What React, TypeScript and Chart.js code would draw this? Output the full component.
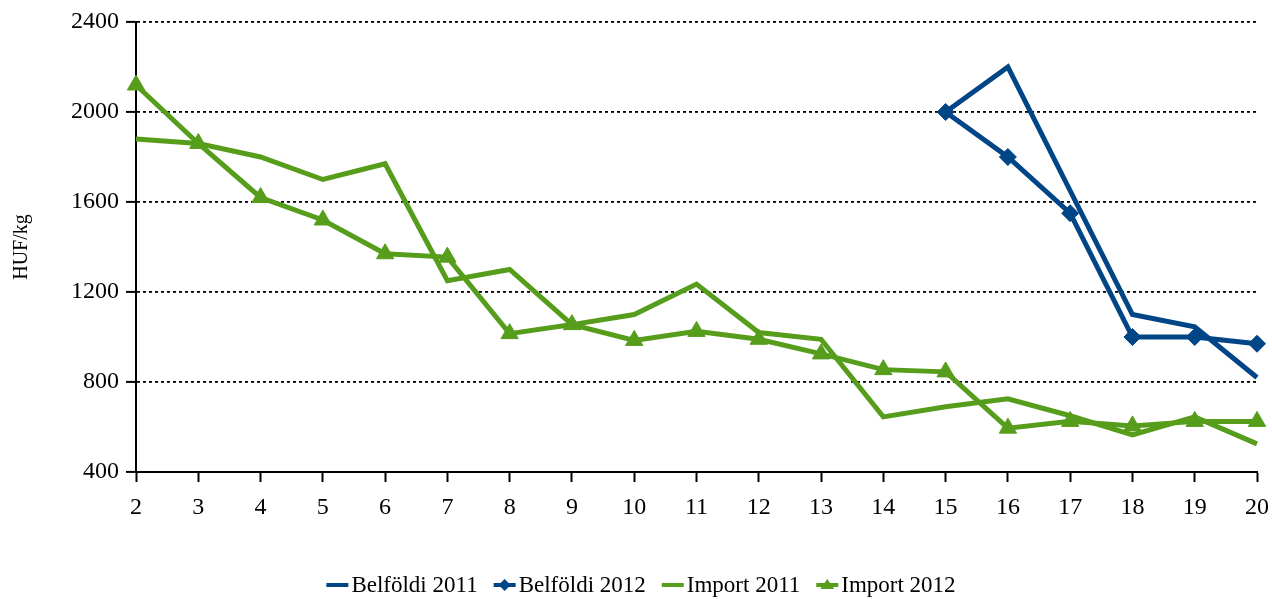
import React, { useEffect, useRef } from "react";
import { Chart, registerables } from "chart.js";

Chart.register(...registerables);

const weeks = ["2", "3", "4", "5", "6", "7", "8", "9", "10", "11", "12", "13", "14", "15", "16", "17", "18", "19", "20"];
const belfoldi2011 = [null, null, null, null, null, null, null, null, null, null, null, null, null, 2000, 2200, 1650, 1100, 1045, 820];
const belfoldi2012 = [null, null, null, null, null, null, null, null, null, null, null, null, null, 2000, 1800, 1550, 1000, 1000, 970];
const import2011 = [1880, 1860, 1800, 1700, 1770, 1250, 1300, 1055, 1100, 1235, 1020, 990, 645, 690, 725, 650, 565, 645, 525];
const import2012 = [2120, 1860, 1620, 1520, 1370, 1355, 1015, 1055, 985, 1025, 990, 925, 855, 845, 595, 625, 605, 625, 625];

const BLUE = "#004586";
const GREEN = "#579d1c";
const FONT = "'Liberation Serif', 'Times New Roman', serif";

const legendPlugin = {
  id: "bottomLegend",
  afterDraw(chart: any) {
    const ctx = chart.ctx;
    const items = chart.data.datasets.map((d: any) => ({
      text: d.label,
      color: d.borderColor,
      style: d.pointRadius > 0 ? d.pointStyle : null,
    }));
    ctx.save();
    ctx.font = `23px ${FONT}`;
    const sample = 22;
    const gap = 3;
    const spacing = 16;
    const widths = items.map((it: any) => sample + gap + ctx.measureText(it.text).width);
    const total = widths.reduce((a: number, b: number) => a + b, 0) + spacing * (items.length - 1);
    let x = 641 - total / 2;
    const y = 585;
    items.forEach((it: any, i: number) => {
      ctx.strokeStyle = it.color;
      ctx.lineWidth = 4;
      ctx.beginPath();
      ctx.moveTo(x, y);
      ctx.lineTo(x + sample, y);
      ctx.stroke();
      if (it.style) {
        ctx.fillStyle = it.color;
        ctx.beginPath();
        if (it.style === "triangle") {
          ctx.moveTo(x + sample / 2, y - 6);
          ctx.lineTo(x + sample / 2 + 7, y + 4);
          ctx.lineTo(x + sample / 2 - 7, y + 4);
        } else {
          ctx.moveTo(x + sample / 2, y - 6);
          ctx.lineTo(x + sample / 2 + 6, y);
          ctx.lineTo(x + sample / 2, y + 6);
          ctx.lineTo(x + sample / 2 - 6, y);
        }
        ctx.closePath();
        ctx.fill();
      }
      ctx.fillStyle = "#000";
      ctx.textBaseline = "middle";
      ctx.textAlign = "left";
      ctx.fillText(it.text, x + sample + gap, y + 1);
      x += widths[i] + spacing;
    });
    ctx.restore();
  },
};

export default function App() {
  const ref = useRef<HTMLCanvasElement | null>(null);
  useEffect(() => {
    if (!ref.current) return;
    const chart = new Chart(ref.current, {
      type: "line",
      data: {
        labels: weeks,
        datasets: [
          {
            label: "Belföldi 2011",
            data: belfoldi2011,
            borderColor: BLUE,
            backgroundColor: BLUE,
            borderWidth: 5,
            pointRadius: 0,
            pointStyle: "circle",
            tension: 0,
          },
          {
            label: "Belföldi 2012",
            data: belfoldi2012,
            borderColor: BLUE,
            backgroundColor: BLUE,
            borderWidth: 5,
            pointRadius: 8.5,
            pointStyle: "rectRot",
            pointBorderWidth: 1,
            tension: 0,
          },
          {
            label: "Import 2011",
            data: import2011,
            borderColor: GREEN,
            backgroundColor: GREEN,
            borderWidth: 5,
            pointRadius: 0,
            pointStyle: "circle",
            tension: 0,
          },
          {
            label: "Import 2012",
            data: import2012,
            borderColor: GREEN,
            backgroundColor: GREEN,
            borderWidth: 5,
            pointRadius: 10,
            pointStyle: "triangle",
            pointBorderWidth: 1,
            tension: 0,
          },
        ],
      },
      options: {
        animation: false,
        responsive: false,
        maintainAspectRatio: false,
        layout: { padding: { top: 22, right: 15, bottom: 0, left: 0 } },
        plugins: {
          legend: { display: false },
          tooltip: { enabled: false },
        },
        scales: {
          x: {
            offset: false,
            grid: {
              drawOnChartArea: false,
              drawTicks: true,
              tickLength: 10,
              tickColor: "#000",
              tickWidth: 2,
            },
            border: { display: true, color: "#000", width: 2 },
            ticks: {
              color: "#000",
              font: { family: FONT, size: 24 },
              padding: 11,
              maxRotation: 0,
              autoSkip: false,
            },
            afterFit: (s: any) => {
              s.height = 127;
              s.paddingLeft = 0;
              s.paddingRight = 0;
            },
          },
          y: {
            min: 400,
            max: 2400,
            ticks: {
              stepSize: 400,
              color: "#000",
              font: { family: FONT, size: 24 },
              padding: 7,
              callback: (v: any) => String(v),
            },
            grid: {
              color: "#000",
              lineWidth: 1.8,
              drawTicks: true,
              tickLength: 10,
              tickColor: "#000",
              tickWidth: 2,
              tickBorderDash: [],
            },
            border: { display: true, color: "#000", width: 2, dash: [3, 3] },
            title: {
              display: true,
              text: "HUF/kg",
              color: "#000",
              font: { family: FONT, size: 20 },
              padding: { top: 10, bottom: 0 },
            },
            afterFit: (s: any) => {
              s.width = 136;
              s.paddingTop = 0;
              s.paddingBottom = 0;
            },
          },
        },
      },
      plugins: [legendPlugin],
    });
    return () => chart.destroy();
  }, []);
  return (
    <div style={{ position: "absolute", left: 0, top: 0, width: 1272, height: 599, background: "#fff" }}>
      <canvas ref={ref} width={1272} height={599} style={{ width: 1272, height: 599 }} />
    </div>
  );
}
